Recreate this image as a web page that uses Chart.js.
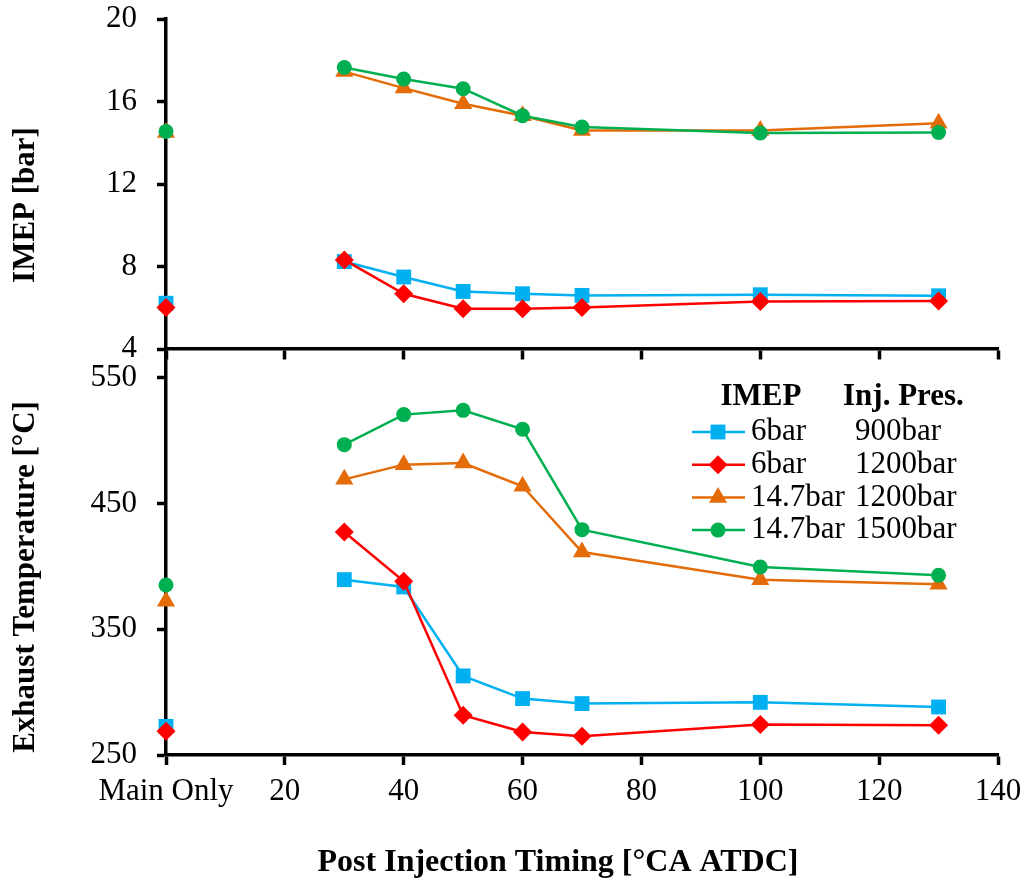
<!DOCTYPE html>
<html>
<head>
<meta charset="utf-8">
<script src="https://cdn.jsdelivr.net/npm/chart.js@4.4.1/dist/chart.umd.min.js"></script>
<style>
  html, body { margin: 0; padding: 0; background: #ffffff; }
  #wrap { width: 1029px; height: 885px; position: relative; }
</style>
</head>
<body>
<div id="wrap"><canvas id="c" width="1029" height="885"></canvas></div>
<script>
// ---------------- DATA ----------------
// x = 0 is the "Main Only" (no post injection) case
const timingValues = [0, 30, 40, 50, 60, 70, 100, 130];
const xTickValues = [0, 20, 40, 60, 80, 100, 120, 140];
const xTickLabels = ['Main Only', '20', '40', '60', '80', '100', '120', '140'];
const imepTickValues = [4, 8, 12, 16, 20];
const tempTickValues = [250, 350, 450, 550];

const legendImep = ['6bar', '6bar', '14.7bar', '14.7bar'];
const legendInjPres = ['900bar', '1200bar', '1200bar', '1500bar'];

// IMEP [bar]
const imep_6bar_900bar    = [6.22, 8.24, 7.49, 6.79, 6.68, 6.60, 6.63, 6.58];
const imep_6bar_1200bar   = [6.01, 8.32, 6.68, 5.95, 5.95, 6.01, 6.30, 6.33];
const imep_14p7_1200bar   = [14.5, 17.45, 16.65, 15.89, 15.31, 14.60, 14.60, 14.95];
const imep_14p7_1500bar   = [14.55, 17.65, 17.09, 16.62, 15.31, 14.76, 14.47, 14.50];

// Exhaust temperature [°C]
const temp_6bar_900bar    = [272.8, 389.5, 383.7, 312.9, 294.9, 290.9, 291.9, 288.2];
const temp_6bar_1200bar   = [268.9, 427.4, 388.2, 281.6, 268.3, 264.9, 274.2, 273.6];
const temp_14p7_1200bar   = [372.3, 469.3, 481.0, 482.3, 463.8, 411.5, 389.5, 385.8];
const temp_14p7_1500bar   = [385.2, 496.9, 520.8, 524.2, 509.1, 429.3, 399.6, 393.0];

// ---------------- STYLE ----------------
const FONT = "'Liberation Serif', 'Times New Roman', serif";
const styles = [
  { color: '#00B0F0', pointStyle: 'rect',     radius: 10.5, order: 4 },
  { color: '#FF0000', pointStyle: 'rectRot',  radius: 9.5,  order: 3 },
  { color: '#E36C09', pointStyle: 'triangle', radius: 10.5, order: 2 },
  { color: '#00B050', pointStyle: 'circle',   radius: 7.5,  order: 1 }
];
const imepSeries = [imep_6bar_900bar, imep_6bar_1200bar, imep_14p7_1200bar, imep_14p7_1500bar];
const tempSeries = [temp_6bar_900bar, temp_6bar_1200bar, temp_14p7_1200bar, temp_14p7_1500bar];

function makeDataset(values, st, axisId, label) {
  return {
    label: label,
    data: timingValues.map((x, i) => ({ x: x, y: values[i] })),
    yAxisID: axisId,
    xAxisID: 'x',
    borderColor: st.color,
    backgroundColor: st.color,
    pointBackgroundColor: st.color,
    pointBorderColor: st.color,
    pointBorderWidth: 0,
    pointStyle: st.pointStyle,
    pointRadius: st.radius,
    borderWidth: 2.5,
    tension: 0,
    order: st.order,
    clip: false,
    segment: {
      borderColor: ctx => (ctx.p0DataIndex === 0 ? 'rgba(0,0,0,0)' : undefined)
    }
  };
}

const datasets = [];
styles.forEach((st, i) => {
  datasets.push(makeDataset(imepSeries[i], st, 'yTop', legendImep[i] + ' ' + legendInjPres[i]));
});
styles.forEach((st, i) => {
  datasets.push(makeDataset(tempSeries[i], st, 'yBot', legendImep[i] + ' ' + legendInjPres[i]));
});

const tickFont = { family: FONT, size: 31, lineHeight: 1 };
const AXW = 3.5;

const gridOpts = (len) => ({
  drawOnChartArea: false, drawTicks: true, tickLength: len,
  tickWidth: AXW, tickColor: '#000000'
});
const borderOpts = { display: true, color: '#000000', width: AXW };

// ---------------- TITLES + LEGEND ----------------
const titlesLegend = {
  id: 'titlesLegend',
  afterDraw(chart) {
    const ctx = chart.ctx;
    ctx.save();
    ctx.fillStyle = '#000000';
    ctx.font = 'bold 31px ' + FONT;
    ctx.textAlign = 'center';
    ctx.textBaseline = 'middle';
    // y-axis titles (rotated)
    [['IMEP [bar]', 205], ['Exhaust Temperature [°C]', 577]].forEach(([txt, cy]) => {
      ctx.save();
      ctx.translate(26, cy);
      ctx.rotate(-Math.PI / 2);
      ctx.fillText(txt, 0, 0);
      ctx.restore();
    });
    // x-axis title
    ctx.font = 'bold 32px ' + FONT;
    ctx.fillText('Post Injection Timing [°CA ATDC]', 558, 863);

    // legend header
    ctx.font = 'bold 31px ' + FONT;
    ctx.fillText('IMEP', 761, 397);
    ctx.textAlign = 'left';
    ctx.fillText('Inj. Pres.', 843, 397);

    // legend rows
    ctx.font = '31px ' + FONT;
    styles.forEach((st, i) => {
      const y = 432 + i * 32.7;
      ctx.strokeStyle = st.color;
      ctx.lineWidth = 2.5;
      ctx.beginPath();
      ctx.moveTo(692, y);
      ctx.lineTo(745, y);
      ctx.stroke();
      ctx.fillStyle = st.color;
      Chart.helpers.drawPoint(ctx, { pointStyle: st.pointStyle, radius: st.radius, rotation: 0, borderWidth: 0 }, 718, y);
      ctx.fillStyle = '#000000';
      ctx.textAlign = 'left';
      ctx.fillText(legendImep[i], 751, y);
      ctx.fillText(legendInjPres[i], 855, y);
    });
    ctx.restore();
  }
};

new Chart(document.getElementById('c'), {
  type: 'line',
  data: { datasets: datasets },
  plugins: [titlesLegend],
  options: {
    responsive: false,
    animation: false,
    devicePixelRatio: 1,
    events: [],
    layout: { padding: { top: 19, right: 31, bottom: 0, left: 0 } },
    plugins: { legend: { display: false }, tooltip: { enabled: false }, title: { display: false } },
    scales: {
      x: {
        type: 'linear', position: 'bottom', min: 0, max: 140,
        afterBuildTicks: s => { s.ticks = xTickValues.map(v => ({ value: v })); },
        ticks: {
          callback: (v, i) => xTickLabels[i],
          font: tickFont, color: '#000000', padding: 11,
          maxRotation: 0, minRotation: 0, autoSkip: false
        },
        grid: gridOpts(10),
        border: borderOpts,
        afterFit: s => { s.height = 130; s.paddingLeft = 0; s.paddingRight = 0; }
      },
      xMid: {
        type: 'linear', position: { yTop: 4 }, min: 0, max: 140,
        afterBuildTicks: s => { s.ticks = xTickValues.map(v => ({ value: v })); },
        ticks: { display: false },
        grid: gridOpts(9),
        border: borderOpts
      },
      yTop: {
        type: 'linear', position: 'left', stack: 'panels', stackWeight: 330, weight: 2,
        min: 4, max: 20,
        afterBuildTicks: s => { s.ticks = imepTickValues.map(v => ({ value: v })); },
        ticks: { font: tickFont, color: '#000000', padding: 20 },
        grid: gridOpts(9),
        border: borderOpts,
        afterFit: s => { s.width = 166; s.paddingTop = 0; s.paddingBottom = 0; }
      },
      yBot: {
        type: 'linear', position: 'left', stack: 'panels', stackWeight: 406, weight: 1,
        min: 250, max: 573,
        afterBuildTicks: s => { s.ticks = tempTickValues.map(v => ({ value: v })); },
        ticks: { font: tickFont, color: '#000000', padding: 20 },
        grid: gridOpts(9),
        border: borderOpts,
        afterFit: s => { s.width = 166; s.paddingTop = 0; s.paddingBottom = 0; }
      }
    }
  }
});
</script>
</body>
</html>
